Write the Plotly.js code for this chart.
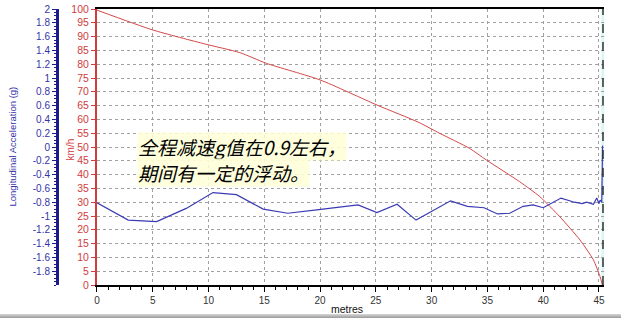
<!DOCTYPE html>
<html>
<head>
<meta charset="utf-8">
<script src="https://cdn.plot.ly/plotly-3.0.1.min.js"></script>
<style>
html,body{margin:0;padding:0;background:#fff;}
#chart{width:621px;height:318px;position:relative;}
#band{position:absolute;left:0;top:314px;width:621px;height:4px;background:linear-gradient(#d8d8d8,#9a9a9a);}
</style>
</head>
<body>
<div id="chart"></div>
<div id="band"></div>
<script>
// Speed (km/h) vs distance (metres)
const speedX = [0, 5, 9.7, 12.8, 15.2, 20, 25.1, 28.8, 30.7, 33.4, 34.9, 37.9, 39.7, 41.5, 43.3, 44.5, 45.1, 45.3];
const speedY = [99.6, 92.4, 87.3, 84.2, 80.3, 74.3, 65.2, 59.0, 55.0, 49.5, 45.3, 37.4, 32.0, 24.7, 16.3, 9.1, 3.0, 0];

// Longitudinal acceleration (g) vs distance (metres)
const accX = [0, 2.8, 5.35, 8.0, 10.4, 12.5, 14.9, 17.1, 19.7, 21.5, 23.4, 25.1, 26.9, 28.6, 31.7, 33.2, 34.7, 35.9, 37.0, 38.2, 39.1, 40.0, 41.6, 42.8, 43.5, 43.9, 44.5, 44.8, 45.0, 45.1, 45.25, 45.32];
const accY = [-0.81, -1.06, -1.08, -0.89, -0.66, -0.69, -0.90, -0.96, -0.91, -0.88, -0.84, -0.95, -0.83, -1.06, -0.78, -0.86, -0.88, -0.97, -0.96, -0.86, -0.84, -0.88, -0.74, -0.80, -0.82, -0.80, -0.83, -0.74, -0.82, -0.77, -0.80, 0.02];

const xTicks = [0, 5, 10, 15, 20, 25, 30, 35, 40, 45];
const kmhTicks = [0, 5, 10, 15, 20, 25, 30, 35, 40, 45, 50, 55, 60, 65, 70, 75, 80, 85, 90, 95, 100];
const gTicks = [-1.8, -1.6, -1.4, -1.2, -1, -0.8, -0.6, -0.4, -0.2, 0, 0.2, 0.4, 0.6, 0.8, 1, 1.2, 1.4, 1.6, 1.8, 2];
const gTickText = gTicks.map(v => String(v));

const noteLine1 = '全程减速g值在0.9左右，';
const noteLine2 = '期间有一定的浮动。';

const FONT = 'Liberation Sans, Arial, sans-serif';
const RED = '#d23c3c';
const BLUE = '#3434a8';

const traces = [
  {x: speedX, y: speedY, type: 'scatter', mode: 'lines', yaxis: 'y',
   line: {color: '#d44848', width: 1, shape: 'spline', smoothing: 0.6}, hoverinfo: 'skip'},
  {x: accX, y: accY, type: 'scatter', mode: 'lines', yaxis: 'y2',
   line: {color: '#3a3ab4', width: 1.2}, hoverinfo: 'skip'}
];

const layout = {
  width: 621, height: 318,
  margin: {l: 57, r: 17, t: 9, b: 33},
  paper_bgcolor: '#ffffff', plot_bgcolor: '#ffffff',
  showlegend: false,
  font: {family: FONT, size: 10, color: '#222'},
  xaxis: {
    domain: [0.0731, 1], range: [0, 45.45],
    tickvals: xTicks, ticktext: xTicks.map(String),
    ticks: 'outside', ticklen: 5, tickcolor: '#000', tickwidth: 1,
    minor: {dtick: 1, ticks: 'outside', ticklen: 3, tickcolor: '#000', showgrid: false},
    showline: true, linecolor: '#000', linewidth: 2, mirror: true,
    showgrid: true, gridcolor: '#a0a0a0', griddash: '3px,3px', gridwidth: 1,
    zeroline: false, tickfont: {family: FONT, size: 10, color: '#333'}
  },
  yaxis: {
    range: [0, 100], tickvals: kmhTicks, ticktext: kmhTicks.map(String),
    ticks: 'outside', ticklen: 4, tickcolor: RED,
    showline: true, linecolor: RED, linewidth: 2,
    showgrid: true, gridcolor: '#a0a0a0', griddash: '3px,3px', gridwidth: 1,
    zeroline: false, tickfont: {family: FONT, size: 10.5, color: RED}
  },
  yaxis2: {
    range: [-2, 2], overlaying: 'y', anchor: 'free', position: 0, side: 'left',
    tickvals: gTicks, ticktext: gTickText,
    ticks: 'outside', ticklen: 4, tickcolor: '#1c1c8c',
    minor: {dtick: 0.05, ticks: 'outside', ticklen: 2, tickcolor: '#1c1c8c', showgrid: false},
    showline: true, linecolor: '#1c1c8c', linewidth: 2.5,
    showgrid: false, zeroline: false,
    tickfont: {family: FONT, size: 10, color: BLUE}
  },
  shapes: [
    {type: 'rect', xref: 'x', yref: 'paper', x0: 45.22, x1: 45.6, y0: 0, y1: 1,
     fillcolor: 'rgba(190,240,240,0.6)', line: {width: 0}, layer: 'below'},
    {type: 'line', xref: 'x', yref: 'paper', x0: 45.36, x1: 45.36, y0: 0, y1: 1,
     line: {color: '#333', width: 1.5, dash: 'dash'}}
  ],
  annotations: [
    {text: 'metres', xref: 'paper', yref: 'paper', x: 0.53, y: -0.087, xanchor: 'center', yanchor: 'middle',
     showarrow: false, font: {family: FONT, size: 10.5, color: '#111'}},
    {text: 'km/h', xref: 'paper', yref: 'paper', x: 0.025, y: 0.49, textangle: -90,
     xanchor: 'center', yanchor: 'middle', showarrow: false, font: {family: FONT, size: 10, color: RED}},
    {text: 'Longitudinal Acceleration (g)', xref: 'paper', yref: 'paper', x: -0.083, y: 0.5, textangle: -90,
     xanchor: 'center', yanchor: 'middle', showarrow: false, font: {family: FONT, size: 9.5, color: BLUE}},
    {text: noteLine1, xref: 'x', yref: 'y', x: 3.6, y: 50.3, xanchor: 'left', yanchor: 'middle',
     showarrow: false, bgcolor: 'rgba(255,255,215,0.85)', borderpad: 0,
     font: {family: 'Noto Sans CJK SC, sans-serif', size: 19, color: '#000', style: 'italic'}},
    {text: noteLine2, xref: 'x', yref: 'y', x: 3.6, y: 40.8, xanchor: 'left', yanchor: 'middle',
     showarrow: false, bgcolor: 'rgba(255,255,215,0.85)', borderpad: 0,
     font: {family: 'Noto Sans CJK SC, sans-serif', size: 19, color: '#000', style: 'italic'}}
  ]
};

Plotly.newPlot('chart', traces, layout, {staticPlot: true, displayModeBar: false});
</script>
</body>
</html>
